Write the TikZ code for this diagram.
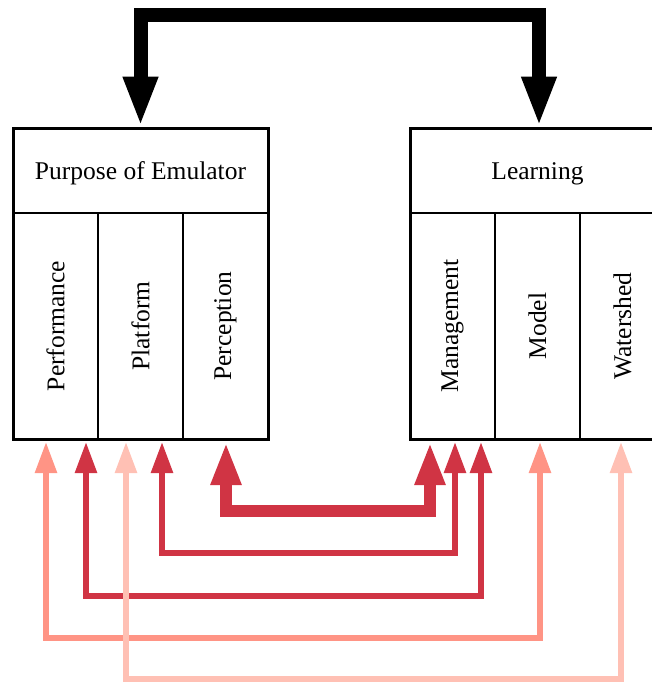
\documentclass[tikz,border=0pt]{standalone}
\usepackage{fontspec}
\setmainfont{Liberation Serif}
\usetikzlibrary{arrows.meta,fit}
\definecolor{darkred}{RGB}{208,52,68}
\definecolor{salmon}{RGB}{255,148,133}
\definecolor{lpink}{RGB}{255,192,180}
\begin{document}
\begin{tikzpicture}[x=1pt,y=-1pt,
  cell/.style={draw, line width=2pt, inner sep=0pt, outer sep=0pt, font=\fontsize{25.5}{30}\selectfont},
  hdr/.style={cell, minimum width=255pt, minimum height=85pt, anchor=north west, text height=17pt, text depth=0pt},
  col/.style={cell, minimum width=85pt, minimum height=226pt, anchor=north west},
  frame/.style={draw, line width=3pt, inner sep=0pt, outer sep=0pt},
  link/.style={line width=5.5pt, {Triangle[width=21pt,length=31pt]}-{Triangle[width=21pt,length=31pt]}},
  biglink/.style={line width=12pt, {Triangle[width=28pt,length=43pt]}-{Triangle[width=28pt,length=43pt]}},
  toplink/.style={line width=14pt, black, {Triangle[width=32pt,length=50pt]}-{Triangle[width=32pt,length=50pt]}}]
\useasboundingbox (0,0) rectangle (652,683);
% left block
\node[hdr] (purpose) at (13,128) {Purpose of Emulator};
\node[col] (perf) at (13,213) {\rotatebox{90}{Performance}};
\node[col] (plat) at (98,213) {\rotatebox{90}{Platform}};
\node[col] (percep) at (183,213) {\rotatebox{90}{Perception}};
\node[frame, fit=(purpose)(perf)(percep)] (emu) {};
% right block
\node[hdr] (learning) at (410,128) {Learning};
\node[col] (mgmt) at (410,213) {\rotatebox{90}{Management}};
\node[col] (model) at (495,213) {\rotatebox{90}{Model}};
\node[col] (water) at (580,213) {\rotatebox{90}{Watershed}};
\node[frame, fit=(learning)(mgmt)(water)] (learn) {};
% top link
\draw[toplink] ([yshift=1.5pt]purpose.north) -- ++(0,-111.5) -| ([xshift=1.5pt,yshift=1.5pt]learning.north);
% bottom links
\draw[biglink, darkred] ([xshift=0.5pt,yshift=-3pt]percep.south) -- ++(0,69) -| ([xshift=-22.5pt,yshift=-3pt]mgmt.south);
\draw[link, darkred] ([xshift=21.5pt,yshift=-3pt]plat.south) -- ++(0,111) -| ([xshift=2.5pt,yshift=-3pt]mgmt.south);
\draw[link, darkred] ([xshift=30.5pt,yshift=-3pt]perf.south) -- ++(0,154) -| ([xshift=28.5pt,yshift=-3pt]mgmt.south);
\draw[link, salmon] ([xshift=-9.5pt,yshift=-3pt]perf.south) -- ++(0,196) -| ([xshift=2.5pt,yshift=-3pt]model.south);
\draw[link, lpink] ([xshift=-14.5pt,yshift=-3pt]plat.south) -- ++(0,237) -| ([xshift=-1.5pt,yshift=-3pt]water.south);
\end{tikzpicture}
\end{document}
